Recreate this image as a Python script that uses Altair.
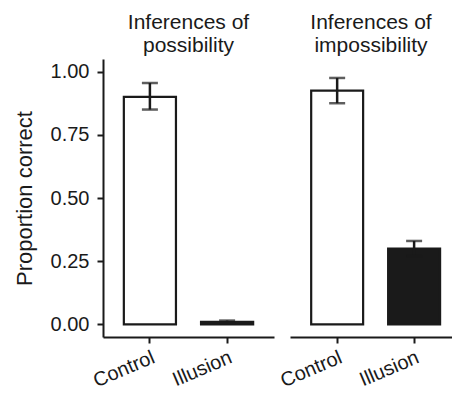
import altair as alt
import pandas as pd

conditions = ["Control", "Illusion"]
panel_titles = [["Inferences of", "possibility"], ["Inferences of", "impossibility"]]
poss_mean = [0.90, 0.01]
poss_lo = [0.85, 0.005]
poss_hi = [0.955, 0.015]
imp_mean = [0.925, 0.30]
imp_lo = [0.875, 0.27]
imp_hi = [0.975, 0.33]
fills = ["#ffffff", "#1a1a1a"]
y_ticks = [0.0, 0.25, 0.5, 0.75, 1.0]

FONT = "Liberation Sans"
INK = "#1a1a1a"


def panel(title, mean, lo, hi, show_y, width, pad_outer, align):
    df = pd.DataFrame({"cond": conditions, "mean": mean, "lo": lo, "hi": hi,
                       "zero": [0.0] * len(conditions)})
    xenc = alt.X("cond:N", sort=conditions,
                 scale=alt.Scale(paddingInner=0.325, paddingOuter=pad_outer, align=align),
                 axis=alt.Axis(title=None, labelAngle=337, labelAlign="right",
                               labelBaseline="top", labelPadding=4, labelFontSize=20))
    yscale = alt.Scale(domain=[-0.05, 1.05], nice=False, zero=False)
    if show_y:
        yaxis = alt.Axis(values=y_ticks, format=".2f", title="Proportion correct",
                         grid=False, titlePadding=14, labelPadding=8)
    else:
        yaxis = None
    base = alt.Chart(df)
    bars = base.mark_bar(stroke=INK, strokeWidth=2.2).encode(
        x=xenc,
        y=alt.Y("mean:Q", scale=yscale, axis=yaxis),
        y2="zero:Q",
        fill=alt.Fill("cond:N", scale=alt.Scale(domain=conditions, range=fills), legend=None),
    )
    rule = base.mark_rule(color=INK, strokeWidth=2.5).encode(
        x=alt.X("cond:N", sort=conditions), y="lo:Q", y2="hi:Q")
    cap_lo = base.mark_tick(color=INK, size=16, thickness=2.5).encode(
        x=alt.X("cond:N", sort=conditions), y="lo:Q")
    cap_hi = base.mark_tick(color=INK, size=16, thickness=2.5).encode(
        x=alt.X("cond:N", sort=conditions), y="hi:Q")
    return alt.layer(bars, rule, cap_lo, cap_hi).properties(
        width=width, height=278,
        title=alt.TitleParams(text=title, fontSize=21, font=FONT, fontWeight="normal",
                              color=INK, anchor="middle", offset=3, lineHeight=23),
    )


left = panel(panel_titles[0], poss_mean, poss_lo, poss_hi, True, 171, 0.27, 0.5)
right = panel(panel_titles[1], imp_mean, imp_lo, imp_hi, False, 162, 0.215, 0.64)

chart = alt.hconcat(
    left, right, spacing=16, bounds="flush",
    padding={"left": 5, "top": 4, "right": 0, "bottom": 0},
).configure_view(
    stroke=None
).configure_axis(
    domainColor=INK, domainWidth=2, tickColor=INK, tickWidth=2, tickSize=6,
    labelColor=INK, labelFont=FONT, labelFontSize=20, titleFont=FONT,
    titleFontSize=22, titleFontWeight="normal", titleColor=INK,
)

chart.save("out.html", embed_options={"renderer": "svg", "actions": False})
